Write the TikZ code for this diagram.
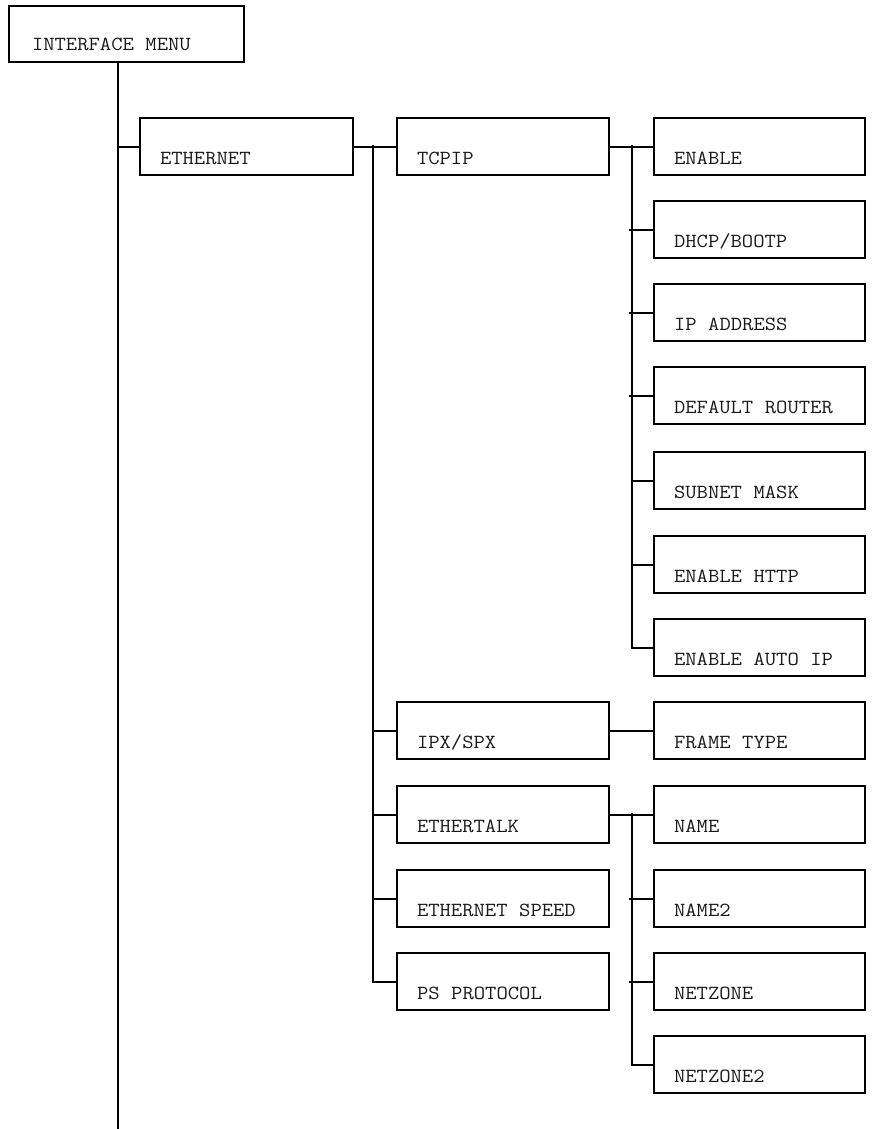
\documentclass[tikz,border=0pt]{standalone}
\usepackage{fontspec}
\newfontfamily\courfont[FakeStretch=1.1]{Latin Modern Mono}
\newcommand\boxspacing{\spaceskip=11.55pt\relax\xspaceskip=11.55pt\relax}
\begin{document}
\begin{tikzpicture}[x=1pt,y=-1pt,
  menubox/.style={draw, line width=2pt, anchor=north west, inner ysep=0pt,
    inner xsep=20pt, text height=46pt, text depth=11pt, align=left,
    font=\courfont\fontsize{20}{22}\selectfont,
    execute at begin node=\boxspacing,
    text=black!90},
  wide2/.style={text width=172pt},
  wide3/.style={text width=171pt},
  conn/.style={line width=2pt}]
\useasboundingbox (0,0) rectangle (871,1129);
% top
\node[menubox, inner xsep=23pt, text height=45pt, text width=189pt] (im) at (8,5) {INTERFACE MENU};
\node[menubox, text width=173pt] (eth) at (139,117) {ETHERNET};
% column 2
\node[menubox, wide2] (tcpip) at (396,117) {TCPIP};
\node[menubox, wide2] (ipx) at (396,701) {IPX/SPX};
\node[menubox, wide2] (etalk) at (396,785) {ETHERTALK};
\node[menubox, wide2] (speed) at (396,869) {ETHERNET SPEED};
\node[menubox, wide2] (ps) at (396,952) {PS PROTOCOL};
% column 3
\node[menubox, wide3] (enable) at (653,117) {ENABLE};
\node[menubox, wide3] (dhcp) at (653,200) {DHCP/BOOTP};
\node[menubox, wide3] (ipaddr) at (653,283) {IP ADDRESS};
\node[menubox, wide3] (router) at (653,366) {DEFAULT ROUTER};
\node[menubox, wide3] (subnet) at (653,451) {SUBNET MASK};
\node[menubox, wide3] (http) at (653,535) {ENABLE HTTP};
\node[menubox, wide3] (autoip) at (653,618) {ENABLE AUTO IP};
\node[menubox, wide3] (frame) at (653,701) {FRAME TYPE};
\node[menubox, wide3] (name) at (653,785) {NAME};
\node[menubox, wide3] (name2) at (653,869) {NAME2};
\node[menubox, wide3] (netzone) at (653,952) {NETZONE};
\node[menubox, wide3] (netzone2) at (653,1035) {NETZONE2};
% trunk
\coordinate (trunktop) at (118,61);
\coordinate (trunkend) at (118,1129);
\draw[conn] (trunktop) -- (trunkend);
\draw[conn] (eth.west) -- ++(-21,0);
% ethernet children
\draw[conn] (eth.east) -- (tcpip.west);
\coordinate (v2) at (373,145);
\draw[conn] (v2) |- (ps.west);
\draw[conn] (ipx.west) -- ++(-23,0);
\draw[conn] (etalk.west) -- ++(-23,0);
\draw[conn] (speed.west) -- ++(-23,0);
% tcpip children
\draw[conn] (tcpip.east) -- (enable.west);
\coordinate (v3) at (632,145);
\draw[conn] (v3) |- (autoip.west);
\draw[conn] (dhcp.west) -- ++(-24,0);
\draw[conn] (ipaddr.west) -- ++(-24,0);
\draw[conn] (router.west) -- ++(-24,0);
\draw[conn] (subnet.west) -- ++(-21,0);
\draw[conn] (http.west) -- ++(-21,0);
% ipx child
\draw[conn] (ipx.east) -- (frame.west);
% ethertalk children
\draw[conn] (etalk.east) -- (name.west);
\coordinate (v4) at (632,813);
\draw[conn] (v4) |- (netzone2.west);
\draw[conn] (name2.west) -- ++(-24,0);
\draw[conn] (netzone.west) -- ++(-24,0);
\end{tikzpicture}
\end{document}
